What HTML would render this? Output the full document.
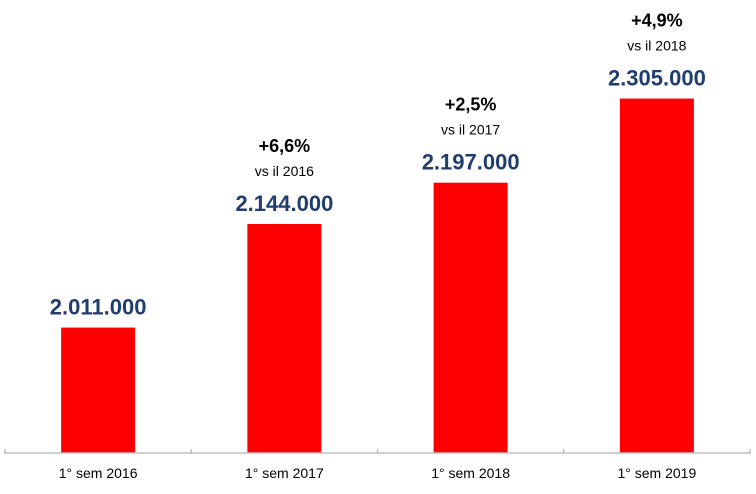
<!DOCTYPE html>
<html><head><meta charset="utf-8"><style>
body{margin:0;background:#fff;}
svg{display:block;font-family:"Liberation Sans",sans-serif;}
</style></head><body>
<svg width="756" height="494">
<g id="bars"></g>
<line x1="5" y1="453" x2="750" y2="453" stroke="#bfbfbf" stroke-width="1.5"/>
<g id="ticks"></g>
</svg>
<script>
const categories=["1° sem 2016","1° sem 2017","1° sem 2018","1° sem 2019"];
const values=[2011000,2144000,2197000,2305000];
const valueLabels=["2.011.000","2.144.000","2.197.000","2.305.000"];
const growthLabels=["","+6,6%","+2,5%","+4,9%"];
const growthRefs=["","vs il 2016","vs il 2017","vs il 2018"];
const NS="http://www.w3.org/2000/svg";
const x0=5,x1=750,base=453,vmin=1850000,k=0.000779;
const band=(x1-x0)/categories.length;
function xc(i){return x0+band*(i+0.5);}
function y(v){return base-(v-vmin)*k;}
function mk(t,a,p){const e=document.createElementNS(NS,t);for(const n in a)e.setAttribute(n,a[n]);p.appendChild(e);return e;}
const g=document.getElementById('bars'),tg=document.getElementById('ticks');
for(let i=0;i<=categories.length;i++){
 const t=mk('line',{x1:x0+band*i,x2:x0+band*i,y1:base-4,y2:base+1,stroke:'#bfbfbf','stroke-width':1.5},tg);
 
 
}
categories.forEach((c,i)=>{
 const cx=xc(i),top=y(values[i]),w=74;
 const r=mk('rect',{x:cx-w/2,y:top,width:w,height:base-top,fill:'#ff0000'},g);
 
 
 const vl=mk('text',{x:cx,y:top-13,'text-anchor':'middle','font-size':22,'font-weight':'bold',fill:'#1f3e6e'},g);
 vl.textContent=valueLabels[i];
 
 
 if(growthLabels[i]){
  const p=mk('text',{x:cx,y:top-72,'text-anchor':'middle','font-size':18,'font-weight':'bold',fill:'#000'},g);
  p.textContent=growthLabels[i];
  
  
  const s=mk('text',{x:cx,y:top-48,'text-anchor':'middle','font-size':14,fill:'#000'},g);
  s.textContent=growthRefs[i];
  
  
 }
 const l=mk('text',{x:cx,y:478,'text-anchor':'middle','font-size':14,fill:'#000'},g);
 l.textContent=c;
 
 
});
</script>
</body></html>
